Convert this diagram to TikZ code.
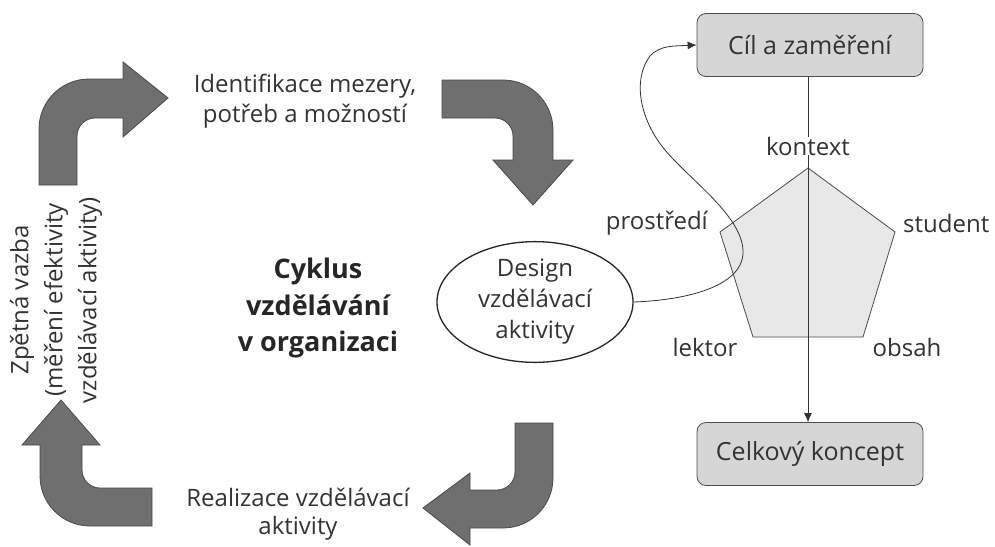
\documentclass[tikz,border=0pt]{standalone}
\usepackage{fontspec}
\setmainfont{Open Sans}
\usetikzlibrary{arrows.meta,shapes.geometric}
\definecolor{arrowgray}{HTML}{6F6F6F}
\definecolor{arrowedge}{HTML}{4A4A4A}
\definecolor{boxfill}{HTML}{D6D6D6}
\definecolor{pentfill}{HTML}{E8E8E8}
\definecolor{textgray}{HTML}{333333}
\begin{document}
\begin{tikzpicture}[x=1pt,y=-1pt,
  bigarrow/.style={fill=arrowgray, draw=arrowedge, line width=0.8pt, line join=miter},
  lbl/.style={text=textgray, font=\fontsize{24}{30}\selectfont, align=center, inner sep=0pt},
  boldlbl/.style={text=black!85, font=\bfseries\fontsize{27}{36.5}\selectfont, align=center, inner sep=0pt},
  rbox/.style={draw=black!70, fill=boxfill, rounded corners=9pt, line width=0.8pt, minimum width=226pt, minimum height=63pt, text=textgray, font=\fontsize{25}{30}\selectfont, inner sep=0pt},
  conn/.style={draw=black!80, line width=0.8pt},
  arrowtip/.style={-{Latex[length=9pt,width=8pt]}}
]
\useasboundingbox (0,0) rectangle (995,546);
\fill[white] (0,0) rectangle (995,546);

% ---- big bent arrows ----
% top-left: up then right
\path[bigarrow] (39,185) -- (39,129) .. controls (39,101.4) and (61.4,79) .. (89,79)
  -- (123,79) -- (123,62) -- (168,98) -- (123,137) -- (123,118) -- (95,118)
  .. controls (85.1,118) and (77,126.1) .. (77,136) -- (77,185) -- cycle;
% top-right: right then down
\path[bigarrow] (442,80) -- (503,80) .. controls (530.6,80) and (553,102.4) .. (553,130)
  -- (553,160) -- (573,160) -- (533,205) -- (493,160) -- (513,160) -- (513,136)
  .. controls (513,126.1) and (504.9,118) .. (495,118) -- (442,118) -- cycle;
% bottom-right: down then left
\path[bigarrow] (515,423) -- (553,423) -- (553,478) .. controls (553,505.6) and (530.6,528) .. (503,528)
  -- (470,528) -- (470,545) -- (423,508) -- (470,473) -- (470,490) -- (497,490)
  .. controls (506.9,490) and (515,481.9) .. (515,472) -- cycle;
% bottom-left: left then up
\path[bigarrow] (152,526) -- (90,526) .. controls (62.4,526) and (40,503.6) .. (40,476)
  -- (40,445) -- (22,445) -- (61,400) -- (100,445) -- (82,445) -- (82,470)
  .. controls (82,479.9) and (90.1,488) .. (100,488) -- (152,488) -- cycle;

% ---- cycle texts ----
\node[lbl] (ident) at (305,101) {Identifikace mezery,\\potřeb a možností};
\node[lbl, font=\fontsize{24}{28}\selectfont] (real) at (298,514) {Realizace vzdělávací\\aktivity};
\node[lbl, rotate=90, font=\fontsize{24}{34}\selectfont] (zpet) at (56,300) {Zpětná vazba\\(měření efektivity\\vzdělávací aktivity)};
\node[boldlbl] (cyk) at (318,308) {Cyklus\\vzdělávání\\v organizaci};

% ---- design ellipse ----
\node[ellipse, draw=black!85, line width=1.3pt, minimum width=196pt, minimum height=116pt,
  inner sep=0pt, lbl, font=\fontsize{24}{31}\selectfont] (design) at (535,302) {Design\\vzdělávací\\aktivity};

% ---- right part ----
\node[rbox] (cil) at (810,45) {Cíl a zaměření};
\node[rbox] (celk) at (810,454) {Celkový koncept};

\coordinate (pA) at (808,168);
\coordinate (pB) at (895,232);
\coordinate (pC) at (863,337);
\coordinate (pD) at (753,337);
\coordinate (pE) at (720,232);
\filldraw[fill=pentfill, draw=black!70, line width=0.8pt] (pA) -- (pB) -- (pC) -- (pD) -- (pE) -- cycle;

\node[lbl] (kontext) at (808,146) {kontext};
\node[lbl, anchor=east] (prost) at (708,223) {prostředí};
\node[lbl, anchor=west] (student) at (903,223) {student};
\node[lbl] (lektor) at (705,347) {lektor};
\node[lbl] (obsah) at (907,347) {obsah};

\draw[conn] (cil.south -| pA) -- (kontext.north);
\draw[conn, arrowtip] (kontext.south) -- (celk.north -| pA);

% curved connector from design to goal box
\draw[conn, arrowtip] (design.east) .. controls (690,300) and (745,285) .. (743,250)
  .. controls (741,215) and (690,180) .. (665,150)
  .. controls (640,120) and (632,80) .. (650,56)
  .. controls (660,45) and (675,46) .. (cil.west);
\end{tikzpicture}
\end{document}
